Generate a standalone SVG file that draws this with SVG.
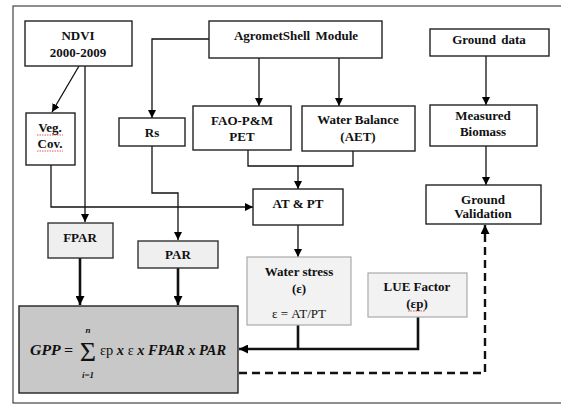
<svg xmlns="http://www.w3.org/2000/svg" width="561" height="406" viewBox="0 0 561 406">
<defs>
<marker id="ah" viewBox="0 0 10 10" refX="10" refY="5" markerWidth="8" markerHeight="8" markerUnits="userSpaceOnUse" orient="auto"><path d="M0,0 L10,5 L0,10 Z" fill="#000"/></marker>
<marker id="ahb" viewBox="0 0 10 10" refX="10" refY="5" markerWidth="9" markerHeight="9" markerUnits="userSpaceOnUse" orient="auto"><path d="M0,0 L10,5 L0,10 Z" fill="#000"/></marker>
</defs>
<style>
.box{fill:#fff;stroke:#222;stroke-width:1.4}
.gbox{fill:#efefef;stroke:#333;stroke-width:1.4}
.lbox{fill:#f2f2f2;stroke:#aaa;stroke-width:1.2}
.t{font-family:"Liberation Serif","Times New Roman","DejaVu Serif",serif;font-weight:bold;font-size:13px;text-anchor:middle;fill:#111}
.r{font-family:"Liberation Serif","Times New Roman","DejaVu Serif",serif;font-size:13px;text-anchor:middle;fill:#111}
.c{fill:none;stroke:#111;stroke-width:1.3}
.k{fill:none;stroke:#111;stroke-width:2.6}
.d{fill:none;stroke:#111;stroke-width:2.4;stroke-dasharray:8,5}
.m{font-family:"Liberation Serif","Times New Roman","DejaVu Serif",serif;font-weight:bold;font-style:italic;fill:#111}
.sq{fill:none;stroke:#d33;stroke-width:0.8;stroke-dasharray:1.5,1}
</style>
<rect x="13" y="6" width="560" height="397" fill="#fff" stroke="#444" stroke-width="1.2"/>
<g id="connectors">
<path class="c" d="M79,66 L52,112" marker-end="url(#ah)"/>
<path class="c" d="M85,66 L85,222" marker-end="url(#ah)"/>
<path class="c" d="M51,165 L51,207 L253,207" marker-end="url(#ah)"/>
<path class="c" d="M209,39 L152,39 L152,118" marker-end="url(#ah)"/>
<path class="c" d="M152,146 L152,193 L178,193 L178,240" marker-end="url(#ah)"/>
<path class="c" d="M259,58 L259,106" marker-end="url(#ah)"/>
<path class="c" d="M339,58 L339,106" marker-end="url(#ah)"/>
<path class="c" d="M248,150 L248,166 L353,166 L353,151"/>
<path class="c" d="M298,166 L298,189" marker-end="url(#ah)"/>
<path class="c" d="M298,225 L298,257" marker-end="url(#ah)"/>
<path class="c" d="M486,56 L486,105" marker-end="url(#ah)"/>
<path class="c" d="M486,146 L486,185" marker-end="url(#ah)"/>
<path class="k" d="M80,258 L80,305" marker-end="url(#ahb)"/>
<path class="k" d="M178,268 L178,305" marker-end="url(#ahb)"/>
<path class="k" d="M298,325 L298,349"/>
<path class="k" d="M418,317 L418,349 L239,349" marker-end="url(#ahb)"/>
<path class="d" d="M239,373 L485,373 L485,225" marker-end="url(#ahb)"/>
</g>
<g id="ndvi"><rect class="box" x="25" y="21" width="107" height="45"/><text class="t" x="78" y="40">NDVI</text><text class="t" x="78" y="57">2000-2009</text></g>
<g id="agromet"><rect class="box" x="209" y="21" width="173" height="37"/><text class="t" x="296" y="40" word-spacing="2">AgrometShell Module</text></g>
<g id="ground-data"><rect class="box" x="430" y="29" width="119" height="27"/><text class="t" x="489" y="44" word-spacing="2">Ground data</text></g>
<g id="veg-cov"><rect class="box" x="26" y="113" width="49" height="52"/><text class="t" x="50" y="132">Veg.</text><text class="t" x="50" y="148">Cov.</text><path class="sq" d="M37,135 L63,135 M37,151 L63,151"/></g>
<g id="rs"><rect class="box" x="119" y="118" width="66" height="28"/><text class="t" x="152" y="137">Rs</text></g>
<g id="fao"><rect class="box" x="193" y="106" width="98" height="44"/><text class="t" x="242" y="125">FAO-P&amp;M</text><text class="t" x="242" y="141">PET</text></g>
<g id="water-balance"><rect class="box" x="302" y="106" width="113" height="45"/><text class="t" x="358" y="124">Water Balance</text><text class="t" x="358" y="141">(AET)</text></g>
<g id="measured-biomass"><rect class="box" x="430" y="105" width="107" height="41"/><text class="t" x="483" y="120">Measured</text><text class="t" x="483" y="136">Biomass</text></g>
<g id="ground-validation"><rect class="box" x="426" y="185" width="115" height="39"/><text class="t" x="483" y="204">Ground</text><text class="t" x="483" y="218">Validation</text></g>
<g id="at-pt"><rect class="box" x="253" y="189" width="90" height="36"/><text class="t" x="298" y="208">AT &amp; PT</text></g>
<g id="fpar"><rect class="gbox" x="48" y="223" width="65" height="35"/><text class="t" x="80" y="242">FPAR</text></g>
<g id="par"><rect class="gbox" x="138" y="241" width="80" height="27"/><text class="t" x="178" y="259">PAR</text></g>
<g id="water-stress"><rect class="lbox" x="247" y="257" width="104" height="68"/><text class="t" x="299" y="276">Water stress</text><text class="t" x="299" y="293">(ε)</text><text class="r" x="299" y="318">ε = AT/PT</text></g>
<g id="lue"><rect class="lbox" x="368" y="273" width="99" height="44"/><text class="t" x="417" y="291">LUE Factor</text><text class="t" x="417" y="308">(εp)</text><path class="sq" d="M408,311 L425,311"/></g>
<g id="gpp"><rect x="19" y="306" width="219" height="87" fill="#c8c8c8" stroke="#222" stroke-width="1.4"/>
<text class="m" x="30" y="355" font-size="15" textLength="43" lengthAdjust="spacingAndGlyphs">GPP =</text>
<text x="88" y="361" font-family="'Liberation Serif','DejaVu Serif',serif" font-size="28" text-anchor="middle" fill="#111">Σ</text>
<text class="m" x="88" y="333" font-size="9" text-anchor="middle">n</text>
<text class="m" x="88" y="378" font-size="9" text-anchor="middle">i=1</text>
<text x="100" y="355" font-size="15" fill="#111" font-family="'Liberation Serif',serif" textLength="126" lengthAdjust="spacingAndGlyphs"><tspan>εp</tspan><tspan class="m"> x </tspan><tspan>ε</tspan><tspan class="m"> x FPAR x PAR</tspan></text>
</g>
</svg>
